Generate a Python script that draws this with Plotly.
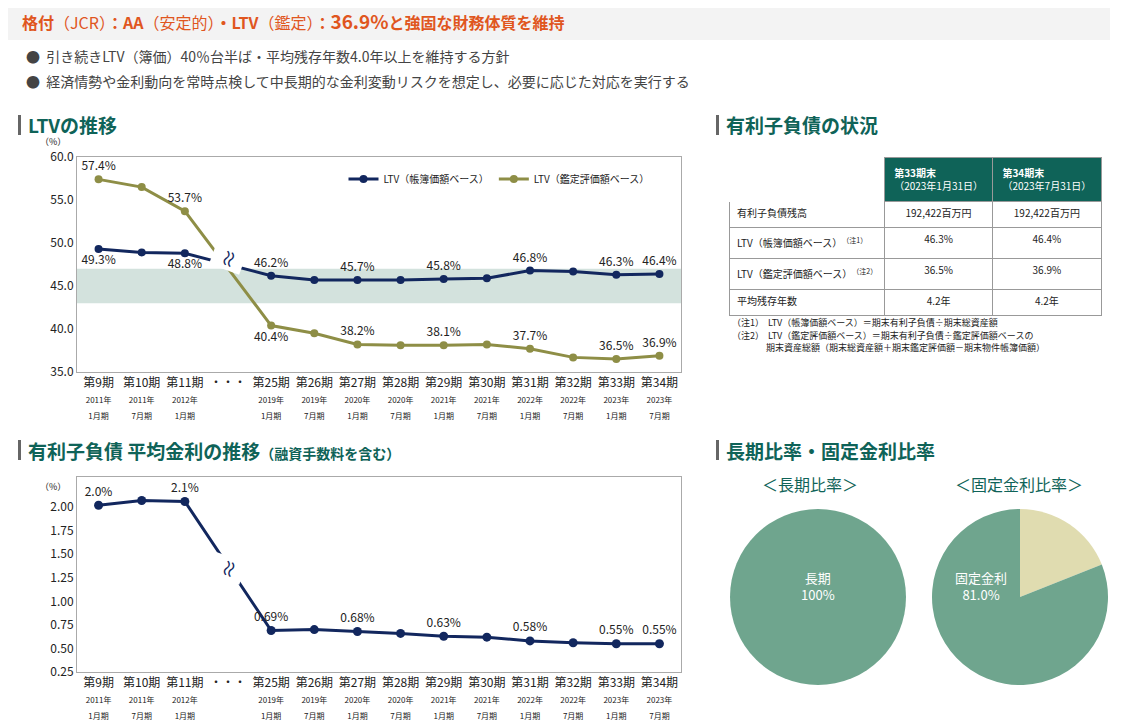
import plotly.graph_objects as go

# data
slots = [0, 1, 2, 4, 5, 6, 7, 8, 9, 10, 11, 12, 13]
periods = ["第9期", "第10期", "第11期", "第25期", "第26期", "第27期", "第28期", "第29期",
           "第30期", "第31期", "第32期", "第33期", "第34期"]
years = ["2011年", "2011年", "2012年", "2019年", "2019年", "2020年", "2020年", "2021年",
         "2021年", "2022年", "2022年", "2023年", "2023年"]
months = ["1月期", "7月期", "1月期", "1月期", "7月期", "1月期", "7月期", "1月期",
          "7月期", "1月期", "7月期", "1月期", "7月期"]
ltv_book = [49.3, 48.9, 48.8, 46.2, 45.7, 45.7, 45.7, 45.8, 45.9, 46.8, 46.7, 46.3, 46.4]
ltv_book_lbl = ["49.3%", "", "48.8%", "46.2%", "", "45.7%", "", "45.8%", "", "46.8%", "", "46.3%", "46.4%"]
ltv_book_pos = ["bottom center"] * 3 + ["top center"] * 10
ltv_appr = [57.4, 56.5, 53.7, 40.4, 39.5, 38.2, 38.1, 38.1, 38.2, 37.7, 36.7, 36.5, 36.9]
ltv_appr_lbl = ["57.4%", "", "53.7%", "40.4%", "", "38.2%", "", "38.1%", "", "37.7%", "", "36.5%", "36.9%"]
ltv_appr_pos = ["top center"] * 3 + ["bottom center"] + ["top center"] * 9
rate = [2.02, 2.07, 2.06, 0.69, 0.70, 0.68, 0.66, 0.63, 0.62, 0.58, 0.56, 0.55, 0.55]
rate_lbl = ["2.0%", "", "2.1%", "0.69%", "", "0.68%", "", "0.63%", "", "0.58%", "", "0.55%", "0.55%"]

table_rows = ["有利子負債残高", "LTV（帳簿価額ベース）<sup>（注1）</sup>",
              "LTV（鑑定評価額ベース）<sup>（注2）</sup>", "平均残存年数"]
table_33 = ["192,422百万円", "46.3%", "36.5%", "4.2年"]
table_34 = ["192,422百万円", "46.4%", "36.9%", "4.2年"]
long_ratio = [100.0]
fixed_ratio = [19.0, 81.0]

NAVY = "#12275e"
OLIVE = "#8e8e46"
TEAL = "#0f6358"
GREEN = "#6fa58e"
FONT = "Noto Sans CJK JP"

# page has an 8px body margin, so the figure is sized to fit inside the window
OFF = 8
W, H = 1131 - OFF, 720 - OFF


def px(x):
    return (x - OFF) / W


def py(y):
    return 1 - (y - OFF) / H


ticktext = [f"{p}<br><span style='font-size:8px'>{y}<br>{m}</span>"
            for p, y, m in zip(periods, years, months)]
tickvals = slots + [3]
ticktext = ticktext + ["・・・"]

fig = go.Figure()

fig.add_trace(go.Scatter(x=slots, y=ltv_book, mode="lines+markers+text", name="LTV（帳簿価額ベース）",
                         line=dict(color=NAVY, width=3), marker=dict(size=8, color=NAVY),
                         text=ltv_book_lbl, textposition=ltv_book_pos,
                         textfont=dict(size=12, color="#222"), xaxis="x", yaxis="y"))
fig.add_trace(go.Scatter(x=slots, y=ltv_appr, mode="lines+markers+text", name="LTV（鑑定評価額ベース）",
                         line=dict(color=OLIVE, width=3), marker=dict(size=8, color=OLIVE),
                         text=ltv_appr_lbl, textposition=ltv_appr_pos,
                         textfont=dict(size=12, color="#222"), xaxis="x", yaxis="y"))
fig.add_trace(go.Scatter(x=slots, y=rate, mode="lines+markers+text", showlegend=False,
                         line=dict(color=NAVY, width=3), marker=dict(size=9, color=NAVY),
                         text=rate_lbl, textposition="top center",
                         textfont=dict(size=12, color="#222"), xaxis="x2", yaxis="y2"))

fig.add_trace(go.Table(
    domain=dict(x=[px(729), px(1102)], y=[py(320), py(157)]),
    columnwidth=[155, 108, 108],
    header=dict(values=["", "<b>第33期末</b><br>（2023年1月31日）", "<b>第34期末</b><br>（2023年7月31日）"],
                fill_color=["white", TEAL, TEAL], line_color=["white", "#999", "#999"],
                font=dict(color="white", size=10, family=FONT), align="center", height=44),
    cells=dict(values=[table_rows, table_33, table_34],
               align=["left", "center", "center"], line_color="#999", fill_color="white",
               font=dict(color="#222", size=10, family=FONT), height=26)))

fig.add_trace(go.Pie(values=long_ratio, labels=["長期"], domain=dict(x=[px(730), px(906)], y=[py(685), py(509)]),
                     marker=dict(colors=[GREEN]), textinfo="none", sort=False, showlegend=False,
                     hoverinfo="label+percent"))
fig.add_trace(go.Pie(values=fixed_ratio, labels=["変動金利", "固定金利"],
                     domain=dict(x=[px(932), px(1108)], y=[py(685), py(509)]),
                     marker=dict(colors=["#e0dcb0", GREEN]), textinfo="none", sort=False,
                     direction="clockwise", rotation=0, showlegend=False, hoverinfo="label+percent"))

axis_x = dict(range=[-0.5, 13.5], tickvals=tickvals, ticktext=ticktext, showgrid=False,
              showline=True, linecolor="#aaa", mirror=True, zeroline=False, automargin=False,
              tickfont=dict(size=12, color="#222"))
fig.update_layout(
    width=W, height=H, margin=dict(l=0, r=0, t=0, b=0, autoexpand=False),
    paper_bgcolor="white", plot_bgcolor="white",
    font=dict(family=FONT, color="#222"),
    xaxis=dict(domain=[px(77), px(681)], anchor="y", **axis_x),
    yaxis=dict(domain=[py(372), py(157)], range=[35, 60], dtick=5, tickformat=".1f", automargin=False,
               showgrid=False, showline=True, linecolor="#aaa", mirror=True, zeroline=False,
               tickfont=dict(size=12)),
    xaxis2=dict(domain=[px(77), px(681)], anchor="y2", **axis_x),
    yaxis2=dict(domain=[py(672), py(477)], range=[0.25, 2.32], tickvals=[0.25, 0.5, 0.75, 1, 1.25, 1.5, 1.75, 2],
                tickformat=".2f", showgrid=False, showline=True, linecolor="#aaa", mirror=True,
                zeroline=False, automargin=False, tickfont=dict(size=12)),
    legend=dict(orientation="h", x=px(499), xanchor="center", y=py(179), yanchor="middle",
                font=dict(size=10), bgcolor="rgba(0,0,0,0)"),
)

shapes = [
    dict(type="rect", xref="paper", yref="paper", x0=0, x1=px(1110), y0=py(40), y1=1,
         fillcolor="#f3f3f3", line_width=0, layer="below"),
    dict(type="rect", xref="x", yref="y", x0=-0.5, x1=13.5, y0=43, y1=47,
         fillcolor="#d3e2dd", line_width=0, layer="below"),
]
for bx, by in [(18, 125), (18, 450), (716, 125), (716, 450)]:
    shapes.append(dict(type="rect", xref="paper", yref="paper", x0=px(bx), x1=px(bx + 3),
                       y0=py(by + 10), y1=py(by - 10), fillcolor="#666", line_width=0))
fig.update_layout(shapes=shapes)

ann = [
    dict(x=20, y=20, text="<b>格付</b>（JCR）<b>：AA</b>（安定的）<b>・LTV</b>（鑑定）<b>：<span style='font-size:19px'>36.9%</span>と強固な財務体質を維持</b>",
         font=dict(size=16, color="#e0561e")),
    dict(x=24, y=56, text="●  引き続きLTV（簿価）40％台半ば・平均残存年数4.0年以上を維持する方針",
         font=dict(size=14, color="#444")),
    dict(x=24, y=81, text="●  経済情勢や金利動向を常時点検して中長期的な金利変動リスクを想定し、必要に応じた対応を実行する",
         font=dict(size=14, color="#444")),
    dict(x=26, y=125, text="<b>LTVの推移</b>", font=dict(size=19, color=TEAL)),
    dict(x=26, y=450, text="<b>有利子負債 平均金利の推移</b><span style='font-size:14px'><b>（融資手数料を含む）</b></span>",
         font=dict(size=19, color=TEAL)),
    dict(x=724, y=125, text="<b>有利子負債の状況</b>", font=dict(size=19, color=TEAL)),
    dict(x=724, y=450, text="<b>長期比率・固定金利比率</b>", font=dict(size=19, color=TEAL)),
    dict(x=38, y=141, text="（%）", font=dict(size=9)),
    dict(x=38, y=487, text="（%）", font=dict(size=9)),
    dict(x=760, y=484, text="＜長期比率＞", font=dict(size=16, color=TEAL)),
    dict(x=953, y=484, text="＜固定金利比率＞", font=dict(size=16, color=TEAL)),
    dict(x=818, y=586, text="長期<br>100%", xanchor="center", font=dict(size=13, color="white")),
    dict(x=981, y=586, text="固定金利<br>81.0%", xanchor="center", font=dict(size=13, color="white")),
    dict(x=730, y=322, text="（注1）  LTV（帳簿価額ベース）＝期末有利子負債÷期末総資産額", font=dict(size=9)),
    dict(x=730, y=335, text="（注2）  LTV（鑑定評価額ベース）＝期末有利子負債÷鑑定評価額ベースの", font=dict(size=9)),
    dict(x=764, y=348, text="期末資産総額（期末総資産額＋期末鑑定評価額－期末物件帳簿価額）", font=dict(size=9)),
]
annotations = []
for a in ann:
    annotations.append(dict(xref="paper", yref="paper", x=px(a["x"]), y=py(a["y"]),
                            xanchor=a.get("xanchor", "left"), yanchor="middle", showarrow=False,
                            text=a["text"], font=a["font"],
                            align="center" if a.get("xanchor") else "left"))
# break marks
annotations.append(dict(xref="x", yref="y", x=3, y=48.2, text="≈", textangle=-70, showarrow=False,
                        font=dict(size=20, color=NAVY), bgcolor="white"))
annotations.append(dict(xref="x2", yref="y2", x=3, y=1.35, text="≈", textangle=-70, showarrow=False,
                        font=dict(size=20, color=NAVY), bgcolor="white"))
fig.update_layout(annotations=annotations)

fig.write_html("out.html")
